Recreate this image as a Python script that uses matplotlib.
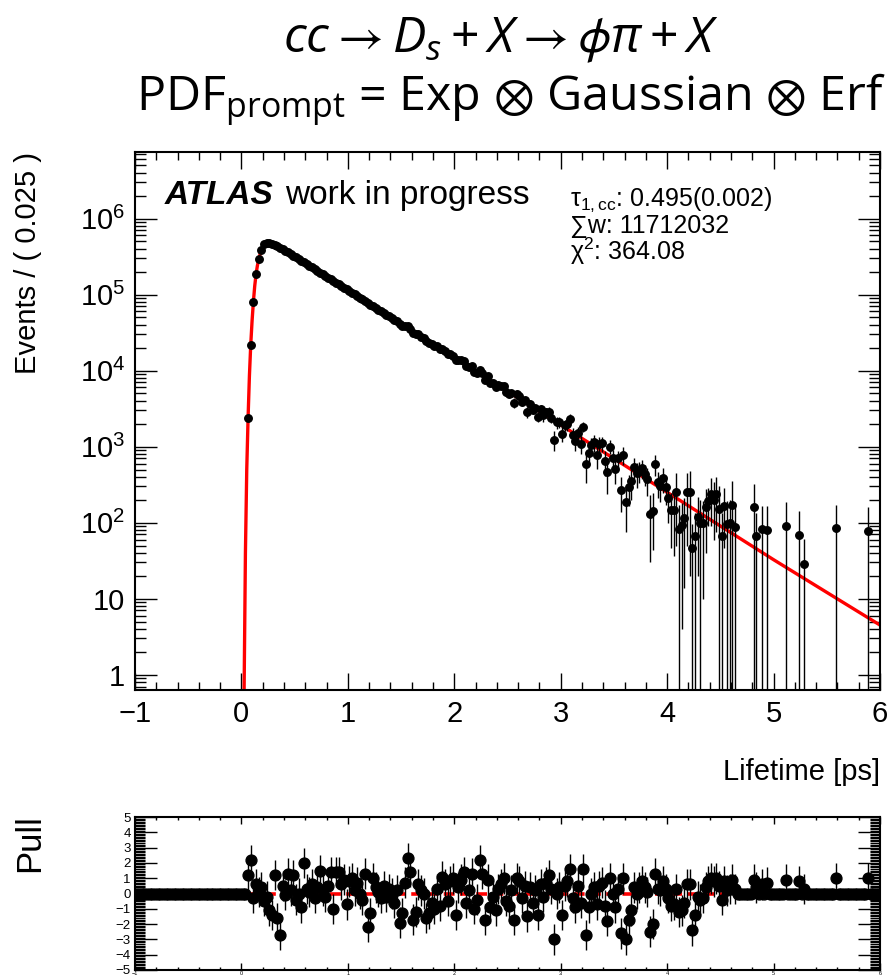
import matplotlib
matplotlib.use('Agg')
import matplotlib.pyplot as plt
from matplotlib.ticker import MultipleLocator, LogLocator, FuncFormatter, NullFormatter
import numpy as np

plt.rcParams['font.family'] = ['Liberation Sans', 'DejaVu Sans']
plt.rcParams['mathtext.fontset'] = 'custom'
plt.rcParams['mathtext.it'] = 'Open Sans:italic'
plt.rcParams['mathtext.rm'] = 'Open Sans'
plt.rcParams['mathtext.fallback'] = 'stixsans'

# histogram binning (0.025 ps bins over -1..6)
bin_width = 0.025
x_lo, x_hi = -1.0, 6.0
first_center = 0.0625   # first filled bin

# weighted counts per bin, from 0.0625 to 4.6375
counts = [
    2400, 22000, 81000, 186000, 290000, 380000, 460000, 475000, 470000, 460000,
    445000, 430000, 410000, 395000, 375000, 360000, 342000, 325000, 309000, 294000,
    279000, 265100, 251900, 239400, 227500, 216100, 205400, 195100, 185400, 176200,
    167400, 159100, 151200, 143600, 136500, 129700, 123200, 117100, 111300, 105700,
    100500, 95500, 90700, 86200, 81900, 77800, 74000, 70300, 66800, 63400,
    60300, 57300, 54400, 51700, 49100, 46700, 44400, 40600, 39100, 38100,
    38300, 35600, 31300, 30100, 29900, 28000, 26600, 24300, 23200, 22460,
    20900, 20800, 19050, 19300, 18070, 16500, 16450, 15730, 13700, 13900,
    13640, 13360, 11410, 11320, 11360, 9540, 9390, 10220, 9290, 7470,
    8390, 6900, 6960, 6130, 6530, 6350, 6220, 5260, 4870, 5020,
    3740, 4995, 4650, 3885, 4060, 2850, 3630, 3050, 3195, 2470,
    3090, 2594, 2835, 2885, 2410, 1240, 2080, 2096, 1470, 1920,
    1960, 2310, 1440, 1190, 1520, 1080, 1830, 590, 816, 1060,
    1150, 785, 1080, 1100, 640, 460, 1000, 700, 510, 700,
    270, 777, 185, 298, 350, 545, 445, 483, 520, 437,
    376, 130, 144, 590, 340, 307, 388, 292, 210, 147,
    147, 250, 83, 94, 114, 250, 250, 47, 66, 120,
    98, 100, 160, 190, 240, 200, 235, 150, 66, 167,
    95, 98, 173, 89,
]
# errors for bins 2.3125 .. 4.6375 (earlier ones are hidden by the markers)
err_start = 90
count_err = [
    630, 600, 570, 540, 510, 490, 460, 440, 420, 400,
    560, 540, 510, 480, 460, 440, 420, 400, 380, 360,
    480, 460, 430, 410, 390, 370, 350, 340, 320, 300,
    370, 350, 340, 320, 300, 290, 270, 260, 250, 240,
    290, 270, 260, 245, 235, 220, 210, 200, 190, 180,
    130, 200, 110, 130, 150, 165, 160, 150, 145, 135,
    150, 100, 100, 180, 130, 120, 140, 120, 110, 100,
    110, 200, 90, 90, 100, 200, 230, 50, 70, 100,
    100, 90, 120, 100, 150, 140, 160, 155, 70, 120,
    100, 100, 180, 95,
]
# pulls for the same bins 0.0625 .. 4.6375
pulls = [
    1.2, 2.2, -0.3, 0.6, 0.1, 0.4, -0.5, -0.2, -1.1, -1.4,
    1.2, -1.6, -2.7, 0.5, -0.1, 1.3, 0.2, 1.2, -0.4, 0.0,
    -0.9, 2.0, 0.3, 0.1, 0.6, -0.3, 0.4, 1.5, 0.2, -0.2,
    0.5, 1.4, -1.0, 1.4, 1.4, 0.6, 0.9, -0.7, 0.8, 1.0,
    0.2, 0.7, 0.0, -0.4, 1.3, -2.2, -1.3, 1.0, 0.4, 0.1,
    -0.3, 0.5, -0.2, 0.3, 0.0, -0.6, 0.2, -1.9, -1.3, 0.7,
    2.3, 1.4, -1.7, -1.2, 0.6, 0.2, 0.0, -1.6, -1.3, -0.6,
    -1.0, 0.3, -0.8, 1.1, 0.6, -0.5, 0.8, 1.0, -1.4, 0.4,
    0.9, 1.4, -0.6, 0.2, 1.3, -1.0, -0.4, 2.2, 1.3, -1.7,
    0.9, -0.9, -0.2, -1.1, 0.3, 0.6, 1.0, -0.5, -0.8, 0.2,
    -1.7, 1.0, 0.8, -0.3, 0.5, -1.5, 0.4, -0.6, 0.2, -1.4,
    0.6, -0.2, 0.7, 1.2, 0.3, -3.0, 0.0, 0.4, -1.4, 0.5,
    0.8, 1.6, -0.3, -0.9, 0.5, -0.6, 1.6, -2.7, -0.9, 0.0,
    0.4, -0.7, 0.5, 0.7, -0.8, -1.8, 1.0, 0.0, -0.9, 0.3,
    -2.6, 1.0, -3.0, -1.7, -1.1, 0.4, 0.0, 0.4, 0.8, 0.4,
    0.1, -2.5, -2.0, 1.3, 0.3, 0.2, 0.8, 0.3, -0.3, -0.8,
    -0.7, 0.3, -1.2, -1.1, -0.6, 0.6, 0.6, -2.4, -1.4, -0.2,
    -0.4, -0.3, 0.4, 0.8, 1.0, 0.8, 1.0, 0.5, -0.4, 0.8,
    0.2, 0.3, 0.9, 0.3,
]

# sparse tail bins
tail_t = [4.8125, 4.8375, 4.8875, 4.9375, 5.1125, 5.2375, 5.2875, 5.5875, 5.8875]
tail_n = [159, 66, 82, 81, 91, 69, 29, 84, 78]
tail_err = [165, 70, 85, 85, 95, 72, 32, 88, 82]
tail_pull = [0.9, 0.4, 0.6, 0.7, 0.9, 0.8, 0.3, 1.0, 1.0]

# fitted PDF
curve_t = [0.0125, 0.025, 0.0375, 0.05, 0.0625, 0.075, 0.0875, 0.1, 0.1125, 0.125,
           0.1375, 0.15, 0.1625, 0.175, 0.1875, 0.2, 0.2125, 0.225, 0.2375, 0.25,
           0.2625, 0.275, 0.3, 0.35, 0.4, 0.5, 1.0, 2.0, 3.0, 4.0, 5.0, 6.0]
curve_n = [0.05, 0.6, 40, 500, 2400, 8500, 22000, 45000, 81000, 130000,
           186000, 240000, 290000, 337000, 380000, 420000, 450000, 468000, 475000, 476000,
           472000, 467000, 455000, 425000, 388000, 317000, 114000, 14800, 1930, 251, 32.6, 4.5]

title_1 = r'$cc \rightarrow D_s + X \rightarrow \phi\pi + X$'
title_2 = r'PDF$_{\mathrm{prompt}}$ = Exp $\otimes$ Gaussian $\otimes$ Erf'

W, H = 888, 976
fig = plt.figure(figsize=(W / 100, H / 100), dpi=100)
ax = fig.add_axes([135 / W, 1 - 690 / H, 745 / W, 538 / H])
axp = fig.add_axes([135 / W, 1 - 970 / H, 745 / W, 153 / H])

centers = first_center + bin_width * np.arange(len(counts))
counts = np.array(counts, dtype=float)

# ---- main pad
ax.plot(curve_t, curve_n, color='red', lw=2.4, zorder=2)
ax.errorbar(centers[err_start:], counts[err_start:], yerr=count_err, fmt='none',
            ecolor='black', elinewidth=1.0, zorder=3)
ax.errorbar(tail_t, tail_n, yerr=tail_err, fmt='none', ecolor='black', elinewidth=1.0, zorder=3)
ax.plot(centers, counts, 'o', color='black', ms=5.4, zorder=4)
ax.plot(tail_t, tail_n, 'o', color='black', ms=5.4, zorder=4)

ax.set_yscale('log')
ax.set_xlim(x_lo, x_hi)
ax.set_ylim(0.63, 7.5e6)
ax.xaxis.set_major_locator(MultipleLocator(1))
ax.xaxis.set_minor_locator(MultipleLocator(0.2))
ax.yaxis.set_major_locator(LogLocator(base=10, numticks=12))
ax.yaxis.set_minor_locator(LogLocator(base=10, subs=np.arange(2, 10), numticks=12))
ax.yaxis.set_minor_formatter(NullFormatter())


def decade_label(v, pos):
    n = int(round(np.log10(v)))
    if n == 0:
        return '1'
    if n == 1:
        return '10'
    return r'$\mathregular{10^{%d}}$' % n


ax.yaxis.set_major_formatter(FuncFormatter(decade_label))
ax.tick_params(which='both', direction='in', top=True, right=True, width=1.0, labelsize=21)
ax.tick_params(axis='x', which='major', length=12, pad=7)
ax.tick_params(axis='x', which='minor', length=6)
ax.tick_params(axis='y', which='major', length=16, pad=7)
ax.tick_params(axis='y', which='minor', length=8)
for s in ax.spines.values():
    s.set_linewidth(1.5)

ax.text(0.040, 0.903, 'ATLAS', transform=ax.transAxes, fontsize=24,
        fontweight='bold', fontstyle='italic', va='baseline')
ax.text(0.2013, 0.903, 'work in progress', transform=ax.transAxes, fontsize=24, va='baseline')
ax.text(0.584, 0.8996, r'τ$_{\mathregular{1,cc}}$: 0.495(0.002)', transform=ax.transAxes,
        fontsize=18, va='baseline')
ax.text(0.584, 0.8494, '∑w: 11712032', transform=ax.transAxes, fontsize=18, va='baseline')
ax.text(0.584, 0.7993, r'χ$^{\mathregular{2}}$: 364.08', transform=ax.transAxes,
        fontsize=18, va='baseline')

# ---- pull pad
all_centers = x_lo + bin_width * (np.arange(int(round((x_hi - x_lo) / bin_width))) + 0.5)
all_pull = np.zeros(len(all_centers))
i0 = int(round((first_center - x_lo) / bin_width - 0.5))
all_pull[i0:i0 + len(pulls)] = pulls
for t, p in zip(tail_t, tail_pull):
    all_pull[int(round((t - x_lo) / bin_width - 0.5))] = p

axp.axhline(0, color='red', lw=2.6, ls=(0, (3, 1.5)), zorder=1)
axp.errorbar(centers, pulls, yerr=np.ones(len(pulls)), fmt='none', ecolor='black',
             elinewidth=1.0, zorder=2)
axp.errorbar(tail_t, tail_pull, yerr=np.ones(len(tail_pull)), fmt='none', ecolor='black',
             elinewidth=1.0, zorder=2)
axp.plot(all_centers, all_pull, 'o', color='black', ms=7.8, zorder=3)

axp.set_xlim(x_lo, x_hi)
axp.set_ylim(-5, 5)
axp.xaxis.set_major_locator(MultipleLocator(1))
axp.xaxis.set_minor_locator(MultipleLocator(0.2))
axp.yaxis.set_major_locator(MultipleLocator(1))
axp.yaxis.set_minor_locator(MultipleLocator(0.1))
axp.tick_params(which='both', direction='in', top=True, right=True, width=1.0)
axp.tick_params(axis='y', which='major', length=16, labelsize=9.5, pad=3)
axp.tick_params(axis='y', which='minor', length=7)
axp.tick_params(axis='x', which='major', length=5, labelsize=4, pad=0.5)
axp.tick_params(axis='x', which='minor', length=2.5)
for s in axp.spines.values():
    s.set_linewidth(1.5)

# ---- labels and title
fig.text(28 / W, 1 - 152 / H, 'Events / ( 0.025 )', rotation=90, ha='center', va='top', fontsize=21)
fig.text(880 / W, 1 - 772 / H, 'Lifetime [ps]', ha='right', va='center', fontsize=21)
fig.text(30 / W, 1 - 843 / H, 'Pull', rotation=90, ha='center', va='center', fontsize=25)
fig.text(501 / W, 1 - 40 / H, title_1, ha='center', va='center', fontsize=36)
fig.text(511 / W, 1 - 100 / H, title_2, ha='center', va='center', fontsize=34.8,
         family=['Open Sans', 'DejaVu Sans'])

fig.savefig('out.png', dpi=100)
